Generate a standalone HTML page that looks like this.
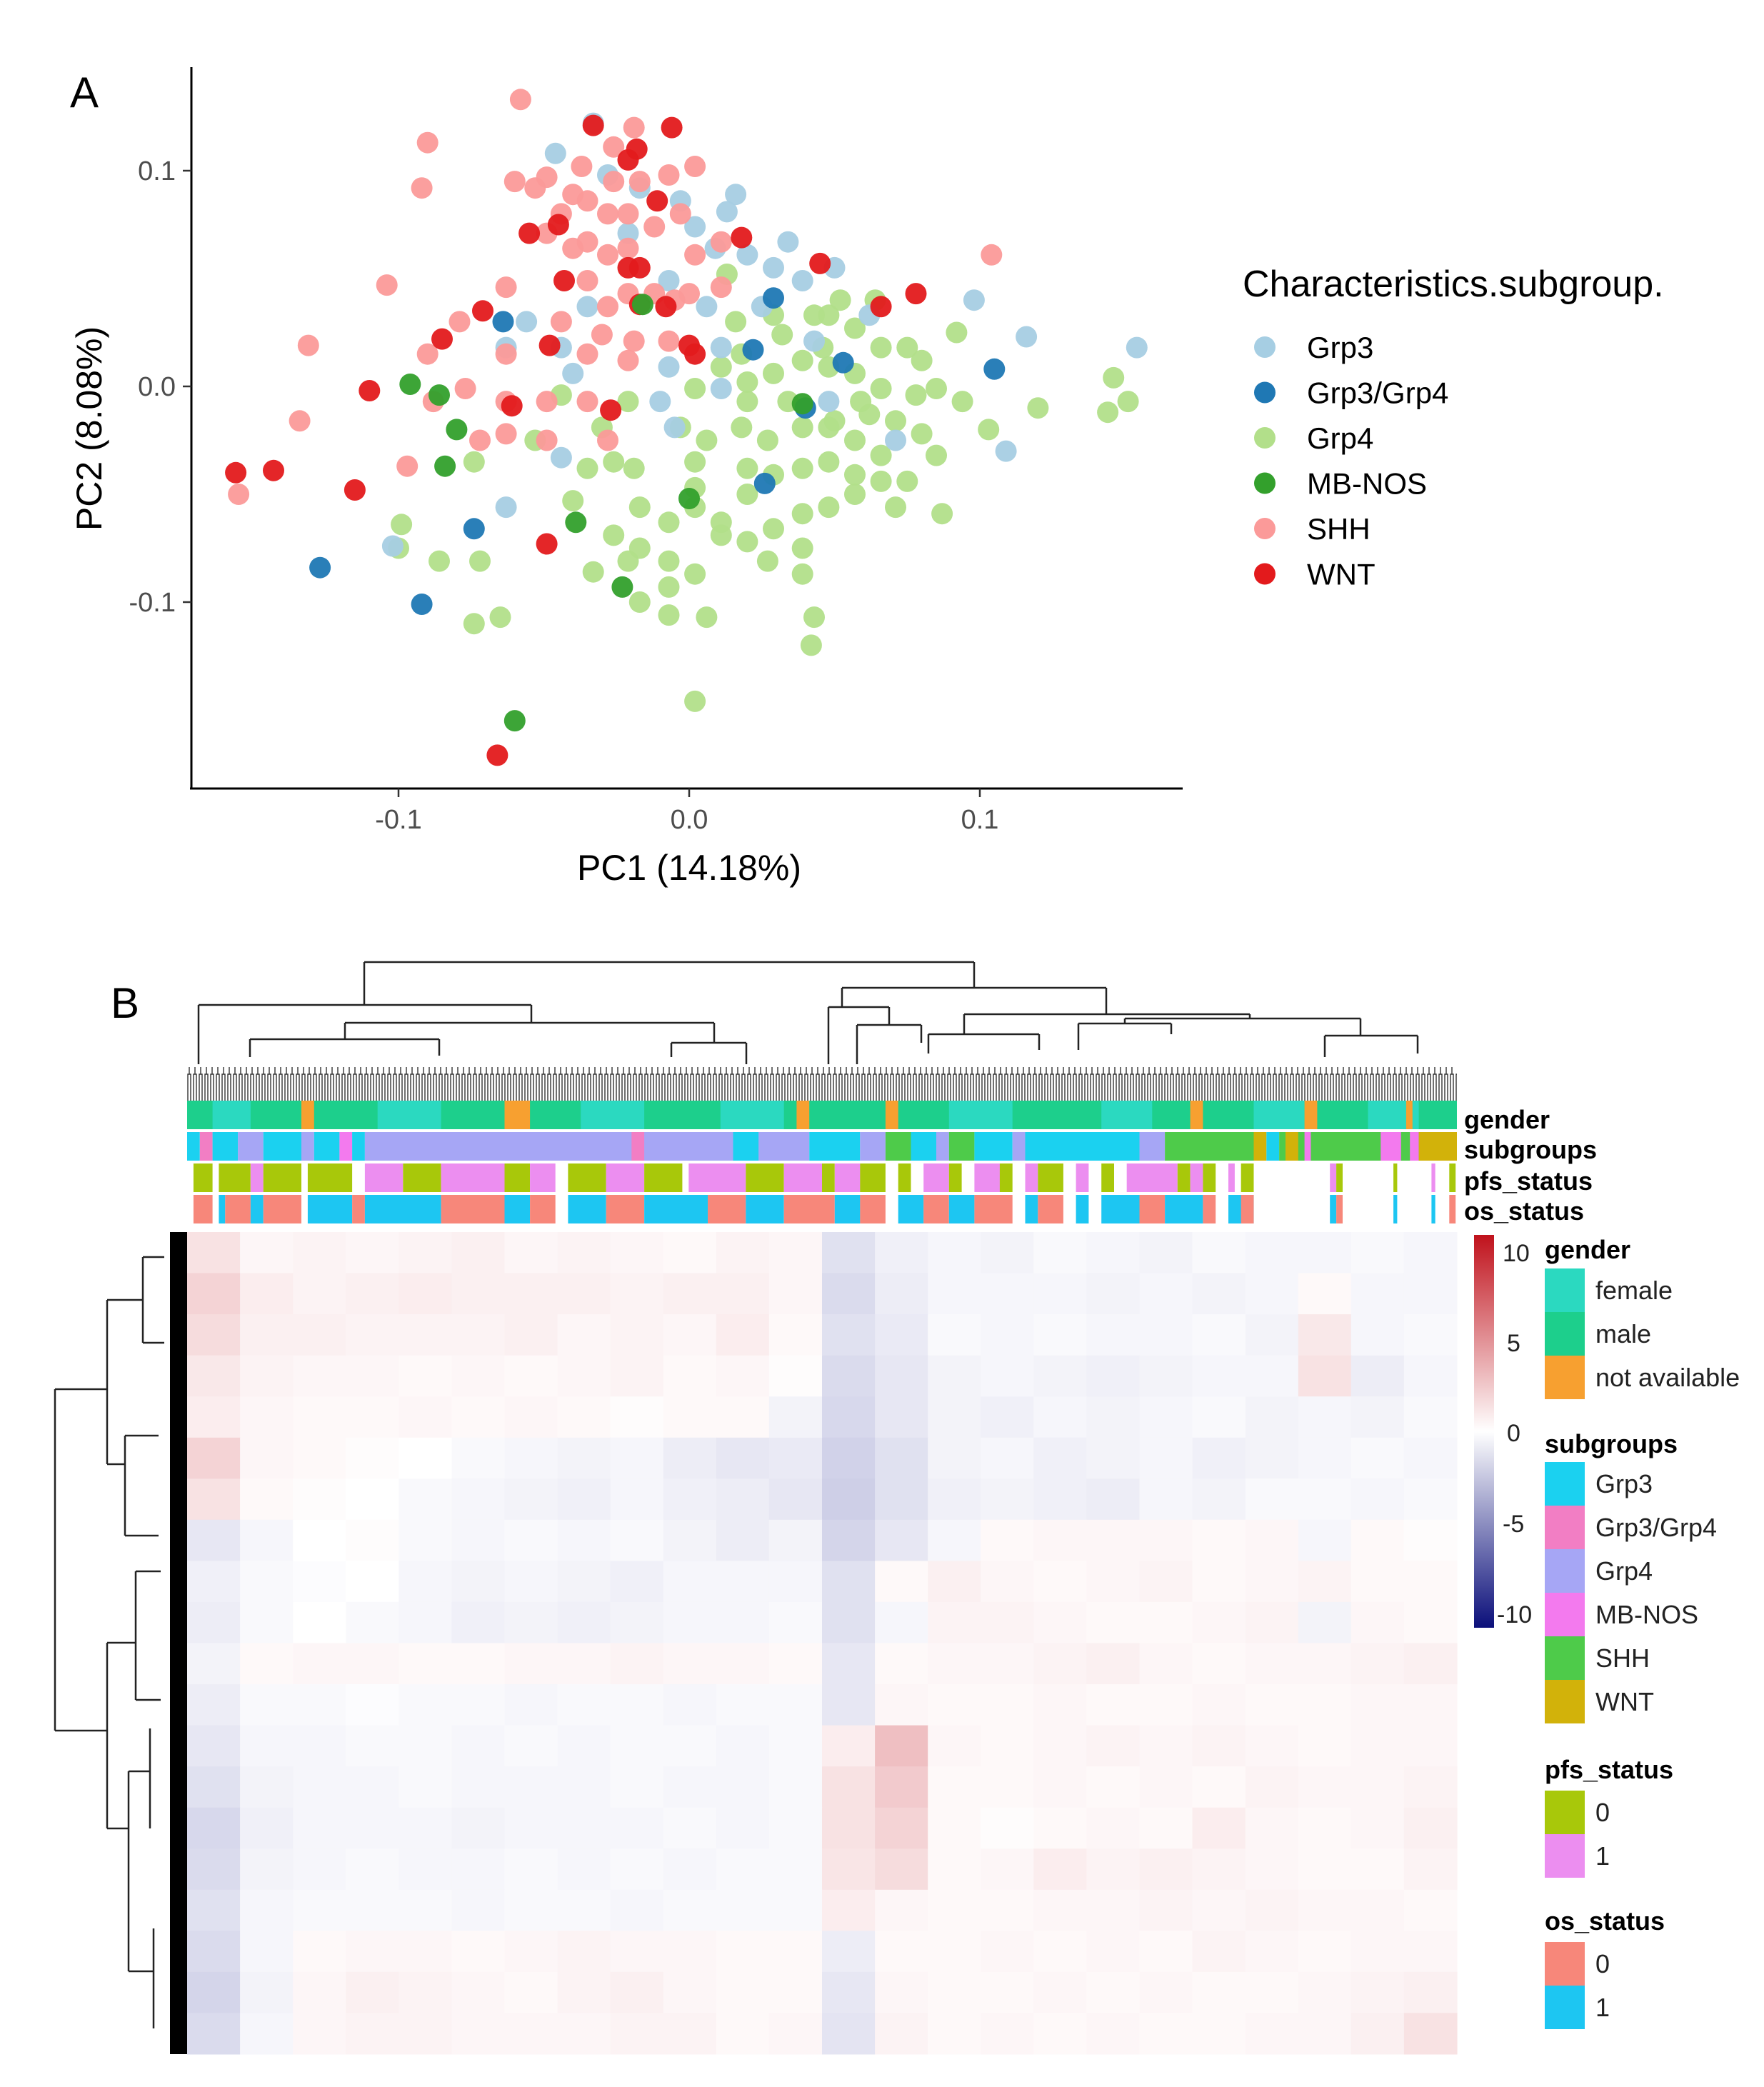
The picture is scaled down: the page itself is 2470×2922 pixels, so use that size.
<!DOCTYPE html>
<html><head><meta charset="utf-8">
<style>
html,body{margin:0;padding:0;background:#fff;}
body{width:2470px;height:2922px;position:relative;overflow:hidden;font-family:"Liberation Sans",sans-serif;}
svg{position:absolute;left:0;top:0;}
.n{font-family:"Liberation Sans Narrow","Liberation Sans",sans-serif;}
</style></head>
<body>
<svg id="fig" width="2470" height="2922" viewBox="0 0 2470 2922">
  <defs>
    <pattern id="leafpat" x="262" y="1490" width="8" height="56" patternUnits="userSpaceOnUse">
      <path d="M1 56 V14 H5 V56 M3 14 V4" stroke="#333" stroke-width="1.4" fill="none"/>
    </pattern>
    <pattern id="rowleaf" x="234" y="1725" width="28" height="7" patternUnits="userSpaceOnUse">
      <rect x="4" y="0" width="24" height="7" fill="#000"/>
    </pattern>
  </defs>
  <!-- Panel A -->
  <text x="98" y="150" font-size="60">A</text>
  <g id="scatter"></g>
  <line x1="268" y1="94" x2="268" y2="1105" stroke="#000" stroke-width="3"/>
  <line x1="266" y1="1104" x2="1656" y2="1104" stroke="#000" stroke-width="3"/>
  <g id="ticks"></g>
  <text x="965" y="1232" font-size="50" text-anchor="middle">PC1 (14.18%)</text>
  <text transform="translate(142,600) rotate(-90)" font-size="50" text-anchor="middle">PC2 (8.08%)</text>
  <g>
    <text x="1740" y="415" font-size="52">Characteristics.subgroup.</text>
    <g id="legA"></g>
  </g>
  <!-- Panel B -->
  <text x="155" y="1425" font-size="60">B</text>
  <g stroke="#222" stroke-width="2.5" fill="none">
    <path d="M510 1347 H1364 M510 1347 V1407 M1364 1347 V1383 M278 1407 H744 M278 1407 V1490 M744 1407 V1432 M1179 1383 H1549 M1179 1383 V1410 M1549 1383 V1420"/>
    <path d="M483 1432 H1000 M483 1432 V1455 M1000 1432 V1460 M350 1455 H615 M350 1455 V1480 M615 1455 V1478 M940 1460 H1045 M940 1460 V1480 M1045 1460 V1490"/>
    <path d="M1160 1410 H1245 M1160 1410 V1490 M1245 1410 V1435 M1200 1435 H1290 M1200 1435 V1490 M1290 1435 V1460"/>
    <path d="M1350 1420 H1750 M1350 1420 V1448 M1750 1420 V1426 M1575 1426 H1905 M1575 1426 V1433 M1905 1426 V1450 M1510 1433 H1640 M1510 1433 V1470 M1640 1433 V1448 M1855 1450 H1985 M1855 1450 V1480 M1985 1450 V1475"/>
    <path d="M1300 1448 H1455 M1300 1448 V1475 M1455 1448 V1470"/>
  </g>
  <rect x="262" y="1490" width="1778" height="55" fill="url(#leafpat)"/>
  <g id="annot"></g>
  <g class="n" font-size="36" font-weight="bold">
    <text x="2050" y="1580">gender</text>
    <text x="2050" y="1622">subgroups</text>
    <text x="2050" y="1666">pfs_status</text>
    <text x="2050" y="1708">os_status</text>
  </g>
  <g stroke="#222" stroke-width="2.5" fill="none">
    <path d="M77 1945 V2423 M77 1945 H150 M77 2423 H150 M150 1820 V2050 M150 1820 H200 M150 2050 H175 M200 1760 V1880 M175 2010 V2150 M150 2300 V2560 M150 2300 H190 M150 2560 H180 M190 2200 V2380 M180 2480 V2760 M180 2760 H215 M180 2480 H210 M210 2420 V2560 M215 2700 V2840 M190 2200 H225 M190 2380 H225 M175 2150 H222 M175 2010 H222 M200 1760 H230 M200 1880 H230"/>
  </g>
  <rect x="234" y="1725" width="28" height="1151" fill="url(#rowleaf)"/>
  <g id="heat"></g>
  <!-- color bar -->
  <defs>
    <linearGradient id="cbar" x1="0" y1="0" x2="0" y2="1">
      <stop offset="0" stop-color="#c0121c"/>
      <stop offset="0.5" stop-color="#ffffff"/>
      <stop offset="1" stop-color="#0b0f7a"/>
    </linearGradient>
  </defs>
  <rect x="2064" y="1729" width="28" height="550" fill="url(#cbar)"/>
  <g class="n" font-size="34" fill="#222">
    <text x="2104" y="1766">10</text><text x="2110" y="1892">5</text><text x="2110" y="2018">0</text><text x="2104" y="2145">-5</text><text x="2096" y="2272">-10</text>
  </g>
  <g id="legB" class="n"></g>
</svg>
<script>
// ---------- Panel A data (PC1, PC2) ----------
const groups = ["Grp3","Grp3/Grp4","Grp4","MB-NOS","SHH","WNT"];
const groupColors = ["#a6cee3","#1f78b4","#b2df8a","#33a02c","#fb9a99","#e31a1c"];
const xTicks = [-0.1, 0.0, 0.1];
const yTicks = [0.1, 0.0, -0.1];
const xTickLabels = ["-0.1","0.0","0.1"];
const yTickLabels = ["0.1","0.0","-0.1"];
const grp3X = [-0.046,-0.033,-0.028,-0.017,0.016,0.013,-0.003,0.002,0.020,0.034,0.039,0.050,0.006,0.011,0.025,-0.007,-0.021,-0.035,-0.044,-0.056,-0.063,-0.040,-0.007,-0.010,0.011,0.098,0.116,0.154,0.109,-0.063,-0.102,-0.044,-0.005,0.043,0.062,0.071,0.048,0.029,0.009];
const grp3Y = [0.108,0.122,0.098,0.092,0.089,0.081,0.086,0.074,0.061,0.067,0.049,0.055,0.037,0.018,0.037,0.049,0.071,0.037,0.018,0.030,0.018,0.006,0.009,-0.007,-0.001,0.040,0.023,0.018,-0.030,-0.056,-0.074,-0.033,-0.019,0.021,0.033,-0.025,-0.007,0.055,0.064];
const grp34X = [-0.064,0.022,0.029,0.053,0.040,0.026,0.105,-0.074,-0.127,-0.092];
const grp34Y = [0.030,0.017,0.041,0.011,-0.010,-0.045,0.008,-0.066,-0.084,-0.101];
const grp4X = [0.013,0.029,0.048,0.057,0.066,0.075,0.092,0.085,0.078,0.066,0.057,0.048,0.039,0.029,0.020,0.011,0.002,-0.003,0.006,0.018,0.027,0.039,0.050,0.062,0.071,0.080,0.048,0.039,0.029,0.020,0.011,0.002,-0.007,-0.017,-0.007,0.002,0.011,0.020,0.029,0.039,0.048,0.057,0.066,0.075,0.087,0.103,0.120,0.146,0.151,0.144,0.027,0.039,0.043,0.042,0.002,0.006,-0.033,-0.021,-0.017,-0.007,-0.040,-0.035,-0.026,-0.019,-0.072,-0.065,-0.074,-0.099,-0.100,-0.086,-0.007,-0.026,0.057,0.066,0.085,0.002,0.020,0.034,0.046,0.059,0.032,0.018,0.043,0.052,-0.021,-0.030,-0.053,-0.074,-0.044,0.016,0.080,0.094,0.064,0.039,0.002,-0.017,0.020,0.048,0.057,0.071];
const grp4Y = [0.052,0.033,0.033,0.027,0.018,0.018,0.025,-0.001,-0.004,-0.001,0.006,0.009,0.012,0.006,0.002,0.009,-0.001,-0.019,-0.025,-0.019,-0.025,-0.019,-0.016,-0.013,-0.016,-0.022,-0.035,-0.038,-0.041,-0.050,-0.063,-0.056,-0.063,-0.075,-0.081,-0.087,-0.069,-0.072,-0.066,-0.059,-0.056,-0.050,-0.044,-0.044,-0.059,-0.020,-0.010,0.004,-0.007,-0.012,-0.081,-0.087,-0.107,-0.120,-0.146,-0.107,-0.086,-0.081,-0.100,-0.093,-0.053,-0.038,-0.035,-0.038,-0.081,-0.107,-0.110,-0.064,-0.075,-0.081,-0.106,-0.069,-0.025,-0.032,-0.032,-0.035,-0.007,-0.007,0.018,-0.007,0.024,0.015,0.033,0.040,-0.007,-0.019,-0.025,-0.035,-0.004,0.030,0.012,-0.007,0.040,-0.075,-0.047,-0.056,-0.038,-0.019,-0.041,-0.056];
const mbX = [-0.096,-0.086,-0.080,-0.084,-0.039,-0.023,-0.060,-0.016,0.039,0.000];
const mbY = [0.001,-0.004,-0.020,-0.037,-0.063,-0.093,-0.155,0.038,-0.008,-0.052];
const shhX = [-0.058,-0.090,-0.092,-0.060,-0.053,-0.049,-0.040,-0.044,-0.035,-0.026,-0.017,-0.028,-0.019,0.002,-0.007,-0.035,-0.040,-0.021,-0.012,-0.028,0.002,-0.003,0.011,0.000,-0.012,-0.021,-0.028,-0.030,-0.044,-0.035,-0.019,-0.007,-0.104,-0.131,-0.134,-0.090,-0.079,-0.063,-0.063,-0.077,-0.063,-0.049,-0.035,-0.028,-0.049,-0.088,-0.097,-0.072,-0.155,0.104,-0.063,-0.021,-0.026,-0.037,-0.049,-0.035,-0.021,-0.005,0.011];
const shhY = [0.133,0.113,0.092,0.095,0.092,0.097,0.089,0.080,0.086,0.095,0.095,0.080,0.120,0.102,0.098,0.067,0.064,0.064,0.074,0.061,0.061,0.080,0.067,0.043,0.043,0.043,0.037,0.024,0.030,0.015,0.021,0.021,0.047,0.019,-0.016,0.015,0.030,0.046,0.015,-0.001,-0.007,-0.007,-0.007,-0.025,-0.025,-0.007,-0.037,-0.025,-0.050,0.061,-0.022,0.080,0.111,0.102,0.071,0.049,0.012,0.040,0.046];
const wntX = [-0.033,-0.006,-0.018,-0.011,-0.055,-0.045,-0.043,-0.021,0.018,0.045,0.066,0.078,-0.071,-0.085,-0.048,-0.110,-0.061,-0.027,0.000,-0.017,-0.156,-0.143,-0.115,-0.049,-0.066,-0.021,-0.017,-0.008,0.002];
const wntY = [0.121,0.120,0.110,0.086,0.071,0.075,0.049,0.055,0.069,0.057,0.037,0.043,0.035,0.022,0.019,-0.002,-0.009,-0.011,0.019,0.038,-0.040,-0.039,-0.048,-0.073,-0.171,0.105,0.055,0.037,0.015];
const seriesX = [grp3X, grp34X, grp4X, mbX, shhX, wntX];
const seriesY = [grp3Y, grp34Y, grp4Y, mbY, shhY, wntY];
const drawOrder = [2,0,4,5,1,3];

const NS = "http://www.w3.org/2000/svg";
function xS(v){ return 965 + v*4070; }
function yS(v){ return 541 - v*3020; }
function mk(tag, attrs, parent){ const e=document.createElementNS(NS,tag); for(const k in attrs) e.setAttribute(k, attrs[k]); parent.appendChild(e); return e; }

const sc = document.getElementById("scatter");
drawOrder.forEach(g=>{
  const gg = mk("g",{},sc);
  
  
  seriesX[g].forEach((v,i)=>{
    const c = mk("circle",{cx:xS(v).toFixed(1), cy:yS(seriesY[g][i]).toFixed(1), r:15, fill:groupColors[g], "fill-opacity":0.95},gg);
    
    
  });
});
const tk = document.getElementById("ticks");
xTicks.forEach((v,i)=>{
  mk("line",{x1:xS(v),x2:xS(v),y1:1104,y2:1116,stroke:"#333","stroke-width":2.5},tk);
  const t = mk("text",{x:xS(v),y:1160,"font-size":38,fill:"#4d4d4d","text-anchor":"middle"},tk);
  t.textContent = xTickLabels[i];
  
  
});
yTicks.forEach((v,i)=>{
  mk("line",{x1:256,x2:268,y1:yS(v),y2:yS(v),stroke:"#333","stroke-width":2.5},tk);
  const t = mk("text",{x:246,y:yS(v)+13,"font-size":38,fill:"#4d4d4d","text-anchor":"end"},tk);
  t.textContent = yTickLabels[i];
  
  
});
const la = document.getElementById("legA");
groups.forEach((g,i)=>{
  const y = 486 + i*63.5;
  const e = mk("g",{},la);
  
  
  mk("circle",{cx:1771,cy:y,r:15,fill:groupColors[i]},e);
  const t = mk("text",{x:1830,y:y+15,"font-size":42},e);
  t.textContent = g;
});

// ---------- Panel B data ----------
// heatmap coarse grid: 20 rows x 24 columns, values on the -10..10 scale
const heatRows = 20;
const heatCols = 24;
const heatValues = [
 [1.0,0.3,0.4,0.3,0.4,0.5,0.3,0.4,0.3,0.2,0.4,0.3,-1.0,-0.5,-0.3,-0.4,-0.2,-0.3,-0.4,-0.2,-0.3,-0.3,-0.2,-0.3],
 [1.5,0.6,0.4,0.5,0.6,0.5,0.5,0.5,0.4,0.5,0.5,0.3,-1.2,-0.6,-0.3,-0.3,-0.3,-0.4,-0.3,-0.4,-0.3,0.2,-0.3,-0.3],
 [1.2,0.5,0.5,0.4,0.4,0.4,0.5,0.3,0.4,0.3,0.6,0.2,-1.0,-0.7,-0.2,-0.3,-0.2,-0.3,-0.3,-0.2,-0.4,0.8,-0.3,-0.2],
 [0.8,0.4,0.3,0.3,0.2,0.3,0.2,0.3,0.4,0.2,0.3,0.1,-1.2,-0.8,-0.4,-0.3,-0.4,-0.5,-0.4,-0.3,-0.3,1.0,-0.6,-0.3],
 [0.6,0.3,0.2,0.2,0.3,0.2,0.3,0.2,0.1,0.2,0.2,-0.4,-1.3,-0.8,-0.4,-0.5,-0.3,-0.4,-0.3,-0.2,-0.4,-0.3,-0.4,-0.2],
 [1.5,0.3,0.2,0.1,0.0,-0.2,-0.3,-0.4,-0.3,-0.6,-0.8,-0.7,-1.5,-1.0,-0.4,-0.3,-0.5,-0.4,-0.3,-0.5,-0.4,-0.3,-0.2,-0.3],
 [1.0,0.2,0.1,0.0,-0.2,-0.3,-0.4,-0.5,-0.3,-0.5,-0.6,-0.8,-1.6,-1.0,-0.5,-0.4,-0.5,-0.6,-0.3,-0.4,-0.2,-0.2,-0.3,-0.2],
 [-0.8,-0.3,0.0,0.1,-0.2,-0.3,-0.2,-0.3,-0.2,-0.4,-0.6,-0.4,-1.4,-0.8,-0.3,0.2,0.3,0.3,0.3,0.2,0.3,-0.3,0.2,0.1],
 [-0.5,-0.2,-0.1,0.0,-0.3,-0.4,-0.3,-0.4,-0.5,-0.3,-0.3,-0.3,-1.0,0.2,0.5,0.3,0.2,0.3,0.4,0.2,0.3,0.4,0.2,0.2],
 [-0.6,-0.2,0.0,-0.2,-0.3,-0.5,-0.4,-0.5,-0.4,-0.3,-0.3,-0.2,-1.0,-0.3,0.4,0.4,0.3,0.2,0.2,0.3,0.4,-0.4,0.3,0.2],
 [-0.4,0.2,0.3,0.3,0.2,0.2,0.3,0.3,0.4,0.3,0.3,0.2,-0.8,0.2,0.3,0.3,0.4,0.5,0.3,0.2,0.3,0.3,0.4,0.5],
 [-0.6,-0.2,-0.2,-0.1,-0.2,-0.2,-0.3,-0.2,-0.2,-0.3,-0.2,-0.2,-0.8,0.3,0.2,0.2,0.3,0.2,0.2,0.3,0.2,0.2,0.3,0.3],
 [-0.8,-0.3,-0.3,-0.2,-0.2,-0.3,-0.2,-0.3,-0.2,-0.2,-0.3,-0.2,0.6,2.2,0.3,0.2,0.3,0.4,0.3,0.4,0.3,0.2,0.3,0.3],
 [-1.0,-0.4,-0.3,-0.3,-0.2,-0.3,-0.3,-0.3,-0.2,-0.3,-0.3,-0.2,1.0,1.8,0.2,0.2,0.3,0.2,0.3,0.2,0.4,0.3,0.3,0.4],
 [-1.3,-0.5,-0.3,-0.3,-0.3,-0.4,-0.3,-0.3,-0.3,-0.2,-0.3,-0.2,1.0,1.5,0.2,0.1,0.2,0.3,0.2,0.6,0.3,0.2,0.3,0.5],
 [-1.2,-0.4,-0.3,-0.2,-0.3,-0.3,-0.2,-0.3,-0.2,-0.3,-0.2,-0.2,0.9,1.2,0.2,0.3,0.6,0.4,0.5,0.4,0.3,0.2,0.2,0.4],
 [-1.0,-0.3,-0.2,-0.2,-0.2,-0.3,-0.2,-0.2,-0.3,-0.2,-0.2,-0.2,0.6,0.3,0.2,0.2,0.3,0.3,0.4,0.3,0.4,0.3,0.3,0.2],
 [-1.2,-0.3,0.2,0.3,0.3,0.2,0.3,0.4,0.3,0.3,0.2,0.2,-0.6,0.2,0.2,0.3,0.2,0.3,0.2,0.4,0.3,0.2,0.3,0.3],
 [-1.4,-0.4,0.3,0.5,0.4,0.3,0.2,0.4,0.5,0.3,0.2,0.2,-0.8,0.3,0.2,0.2,0.3,0.2,0.3,0.2,0.2,0.3,0.4,0.5],
 [-1.2,-0.3,0.3,0.4,0.4,0.3,0.3,0.3,0.4,0.4,0.2,0.3,-0.9,0.4,0.2,0.3,0.2,0.3,0.2,0.2,0.3,0.3,0.5,1.0]
];
const HX0=262, HX1=2040, HY0=1725, HY1=2876;
function heatColor(v){
  const t=Math.max(-10,Math.min(10,v))/10*1.3; const a=Math.min(1,Math.abs(t));
  if(v>=0){ return `rgb(${255-Math.round(a*(255-200))},${255-Math.round(a*(255-30))},${255-Math.round(a*(255-40))})`; }
  return `rgb(${255-Math.round(a*(255-20))},${255-Math.round(a*(255-25))},${255-Math.round(a*(255-140))})`;
}
const hg = document.getElementById("heat");
const cw=(HX1-HX0)/heatCols, ch=(HY1-HY0)/heatRows;
heatValues.forEach((row,r)=>row.forEach((v,c)=>{
  const e = mk("rect",{x:(HX0+c*cw).toFixed(1),y:(HY0+r*ch).toFixed(1),width:(cw+0.6).toFixed(1),height:(ch+0.6).toFixed(1),fill:heatColor(v)},hg);
  
  
}));

// annotation tracks: segments as [startFraction, endFraction, categoryIndex]
const genderColors = ["#2bd9c0","#1dcf8c","#f7a030"];
const genderLabels = ["female","male","not available"];
const genderSegs = [[0,1,1],[0.02,0.05,0],[0.09,0.1,2],[0.15,0.2,0],[0.25,0.27,2],[0.31,0.36,0],[0.42,0.47,0],[0.48,0.49,2],[0.55,0.56,2],[0.6,0.65,0],[0.72,0.76,0],[0.79,0.8,2],[0.84,0.88,0],[0.88,0.89,2],[0.93,0.97,0],[0.96,0.965,2]];
const subColors = ["#1bd1f0","#f27ec4","#a6a6f5","#f37aee","#4ecb4a","#d2b20a"];
const subLabels = ["Grp3","Grp3/Grp4","Grp4","MB-NOS","SHH","WNT"];
const subSegs = [[0,0.01,0],[0.01,0.02,1],[0.02,0.04,0],[0.04,0.06,2],[0.06,0.09,0],[0.09,0.1,2],[0.1,0.12,0],[0.12,0.13,3],[0.13,0.14,0],[0.14,0.49,2],[0.35,0.36,1],[0.43,0.45,0],[0.49,0.53,0],[0.53,0.55,2],[0.55,0.57,4],[0.57,0.59,0],[0.59,0.6,2],[0.6,0.62,4],[0.62,0.65,0],[0.65,0.66,2],[0.66,0.75,0],[0.75,0.77,2],[0.77,0.84,4],[0.84,0.85,5],[0.85,0.86,0],[0.86,0.89,4],[0.89,0.91,2],[0.91,0.95,4],[0.95,0.98,3],[0.98,1.0,4]];
const subSegs2 = [[0.865,0.875,5],[0.89,0.905,2],[0.885,0.955,4],[0.88,0.885,3],[0.93,0.945,4],[0.94,0.955,3],[0.956,0.975,4],[0.963,0.97,3],[0.97,0.98,5],[0.98,1.0,5]];
const pfsColors = ["#a8c80a","#ec8ef0"];
const pfsLabels = ["0","1"];
const pfsSegs = [[0.005,0.02,0],[0.025,0.05,0],[0.05,0.06,1],[0.06,0.09,0],[0.095,0.13,0],[0.14,0.17,1],[0.17,0.2,0],[0.2,0.25,1],[0.25,0.27,0],[0.27,0.29,1],[0.3,0.33,0],[0.33,0.36,1],[0.36,0.39,0],[0.395,0.44,1],[0.44,0.47,0],[0.47,0.5,1],[0.5,0.51,0],[0.51,0.53,1],[0.53,0.55,0],[0.56,0.57,0],[0.58,0.6,1],[0.6,0.61,0],[0.62,0.64,1],[0.64,0.65,0],[0.66,0.67,1],[0.67,0.69,0],[0.7,0.71,1],[0.72,0.73,0],[0.74,0.78,1],[0.78,0.79,0],[0.79,0.8,1],[0.8,0.81,0],[0.82,0.825,1],[0.83,0.84,0],[0.9,0.905,1],[0.905,0.91,0],[0.994,0.999,0],[0.95,0.953,0],[0.98,0.983,1]];
const osColors = ["#f7877a","#1dc6f2"];
const osLabels = ["0","1"];
const osSegs = [[0.005,0.02,0],[0.025,0.03,1],[0.03,0.05,0],[0.05,0.06,1],[0.06,0.09,0],[0.095,0.13,1],[0.13,0.14,0],[0.14,0.2,1],[0.2,0.25,0],[0.25,0.27,1],[0.27,0.29,0],[0.3,0.33,1],[0.33,0.36,0],[0.36,0.41,1],[0.41,0.44,0],[0.44,0.47,1],[0.47,0.51,0],[0.51,0.53,1],[0.53,0.55,0],[0.56,0.58,1],[0.58,0.6,0],[0.6,0.62,1],[0.62,0.65,0],[0.66,0.67,1],[0.67,0.69,0],[0.7,0.71,1],[0.72,0.75,1],[0.75,0.77,0],[0.77,0.8,1],[0.8,0.81,0],[0.82,0.84,1],[0.83,0.84,0],[0.9,0.905,1],[0.905,0.91,0],[0.95,0.953,1],[0.98,0.983,1],[0.994,0.999,0]];
const ag = document.getElementById("annot");
function track(segs, colors, y0, h, name){
  const g = mk("g",{},ag);
  
  
  segs.forEach(s=>{
    const x0 = HX0 + s[0]*(HX1-HX0), x1 = HX0 + s[1]*(HX1-HX0);
    const r = mk("rect",{x:x0.toFixed(1),y:y0,width:Math.max(3,x1-x0).toFixed(1),height:h,fill:colors[s[2]]},g);
    
    
  });
}
track(genderSegs, genderColors, 1541, 40, 'gender-track');
track(subSegs.concat(subSegs2), subColors, 1585, 40, 'subgroups-track');
track(pfsSegs, pfsColors, 1629, 40, 'pfs-status-track');
track(osSegs, osColors, 1673, 40, 'os-status-track');

const lb = document.getElementById("legB");
function legBlock(title, labels, colors, ty, sy){
  const g = mk("g",{},lb);
  
  
  const t = mk("text",{x:2163,y:ty,"font-size":36,"font-weight":"bold"},g); t.textContent = title;
  labels.forEach((l,i)=>{
    const e = mk("g",{},g);
    
    
    mk("rect",{x:2163,y:sy+i*61,width:56,height:61,fill:colors[i]},e);
    const tt = mk("text",{x:2234,y:sy+i*61+43,"font-size":36,fill:"#222"},e); tt.textContent = l;
  });
}
legBlock("gender", genderLabels, genderColors, 1762, 1776);
legBlock("subgroups", subLabels, subColors, 2034, 2047);
legBlock("pfs_status", pfsLabels, pfsColors, 2490, 2507);
legBlock("os_status", osLabels, osColors, 2702, 2719);
</script>
</body></html>
